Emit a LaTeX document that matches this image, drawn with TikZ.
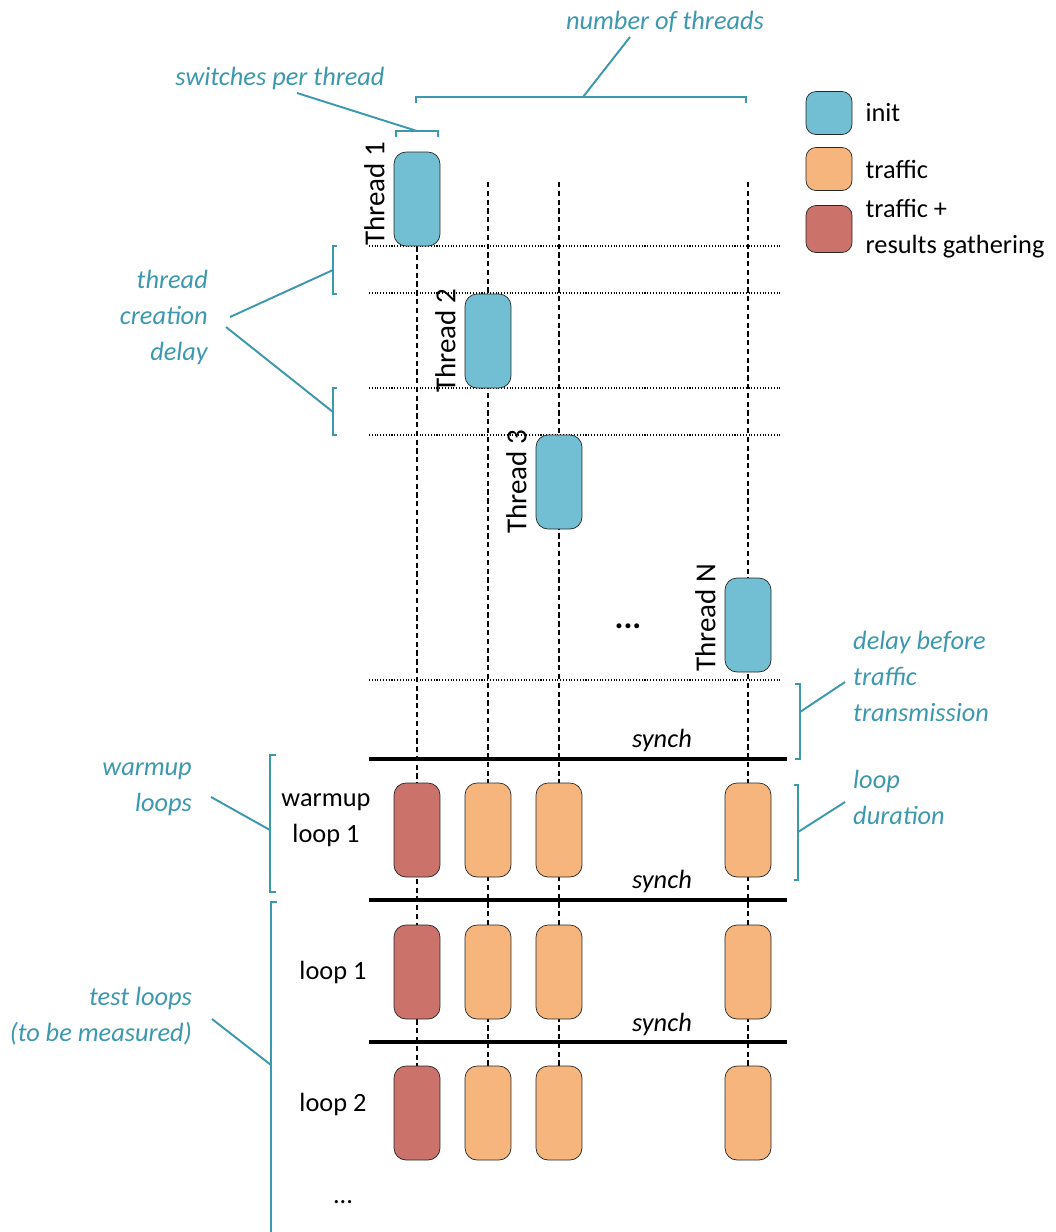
\documentclass[tikz,border=0pt]{standalone}
\usepackage{fontspec}
\setmainfont{Carlito}
\usetikzlibrary{positioning,backgrounds}
\definecolor{initblue}{HTML}{72BFD3}
\definecolor{trafficorange}{HTML}{F7B57E}
\definecolor{gatherred}{HTML}{CB736B}
\definecolor{notecol}{HTML}{3C98AE}
\tikzset{
  slot/.style = {draw=black!85, rounded corners=0.24cm, minimum width=0.92cm,
    minimum height=1.88cm, inner sep=0pt},
  init/.style = {slot, fill=initblue},
  traffic/.style = {slot, fill=trafficorange},
  gather/.style = {slot, fill=gatherred},
  keybox/.style = {draw=black!85, rounded corners=0.2cm, minimum width=0.92cm,
    minimum height=0.86cm, inner sep=0pt},
  txt/.style = {font=\fontsize{15}{20.5}\selectfont},
  note/.style = {text=notecol, font=\itshape\fontsize{15}{20.5}\selectfont},
  thlabel/.style = {font=\fontsize{16.5}{20}\selectfont, rotate=90, anchor=south, inner sep=2pt},
  bracket/.style = {draw=notecol, line width=1.1pt},
  lane/.style = {densely dashed, line width=0.9pt},
  tick/.style = {densely dotted, line width=0.6pt},
  synchline/.style = {line width=1.8pt}
}

\begin{document}
\begin{tikzpicture}[x=0.02cm, y=-0.02cm]
    \useasboundingbox (0,0) rectangle (1056,1232);

    \node [init] (t1) at (417,199) {};
    \node [init] (t2) at (488,341) {};
    \node [init] (t3) at (559,482) {};
    \node [init] (tN) at (748,625) {};
    \node [thlabel] (t1lab) at ([xshift=-3pt, yshift=3pt]t1.west) {Thread 1};
    \node [thlabel] (t2lab) at ([xshift=-3pt]t2.west) {Thread 2};
    \node [thlabel] (t3lab) at ([xshift=-3pt]t3.west) {Thread 3};
    \node [thlabel] (tNlab) at ([xshift=-3pt, yshift=4pt]tN.west) {Thread N};
    \node [font=\bfseries\fontsize{19}{19}\selectfont] (more) at (628,626) {...};

    \node [gather]  (w1) at (417,830) {};
    \node [traffic] (w2) at (488,830) {};
    \node [traffic] (w3) at (559,830) {};
    \node [traffic] (wN) at (748,830) {};
    \node [gather]  (a1) at (417,972) {};
    \node [traffic] (a2) at (488,972) {};
    \node [traffic] (a3) at (559,972) {};
    \node [traffic] (aN) at (748,972) {};
    \node [gather]  (b1) at (417,1113) {};
    \node [traffic] (b2) at (488,1113) {};
    \node [traffic] (b3) at (559,1113) {};
    \node [traffic] (bN) at (748,1113) {};

    \node [txt, align=center] (wlab) at (326,820) {warmup\\loop 1};
    \node [txt] (alab) at (333,972) {loop 1};
    \node [txt] (blab) at (333,1104) {loop 2};
    \node [txt] (clab) at (343,1202) {...};

    \foreach \y in {740,881,1024}
        \node [txt, font=\itshape\fontsize{15}{20.5}\selectfont] at (662,\y) {synch};
    \foreach \y in {759,900,1042}
        \draw [synchline] (369,\y) -- (787,\y);

    \begin{scope}[on background layer]
        \foreach \y in {246,293,388,435,680}
            \draw [tick] (369,\y) -- (782,\y);
        \coordinate (top2) at (488,182);
        \coordinate (top3) at (559,182);
        \coordinate (topN) at (748,182);
        \draw [lane] (t1.south) -- (b1.north);
        \draw [lane] (top2) -- (b2.north);
        \draw [lane] (top3) -- (b3.north);
        \draw [lane] (topN) -- (bN.north);
    \end{scope}

    \node [keybox, fill=initblue] (kinit) at (829,113) {};
    \node [keybox, fill=trafficorange] (ktraffic) at (829,169) {};
    \node [keybox, fill=gatherred, minimum height=0.94cm] (kgather) at (829,229) {};
    \node [txt, right=4pt of kinit] {init};
    \node [txt, right=4pt of ktraffic] {traffic};
    \node [txt, align=left, right=4pt of kgather] {traffic +\\results gathering};

    \node [note] (nthreads) at (665,22) {number of threads};
    \node [note] (switches) at (280,78) {switches per thread};
    \node [note, align=right, anchor=east] (creation) at (214,317) {thread\\creation\\delay};
    \node [note, align=left, anchor=west] (delaytx) at (847,676) {delay before\\traffic\\transmission};
    \node [note, align=left, anchor=west] (loopdur) at (847,797) {loop\\duration};
    \node [note, align=right, anchor=east] (warmnote) at (198,789) {warmup\\loops};
    \node [note, align=right, anchor=east] (testnote) at (198,1016) {test loops\\(to be measured)};

    \coordinate (nthreadsend) at (630,37);
    \coordinate (switchesend) at (297,93);
    \coordinate (creationend1) at (230,317);
    \coordinate (creationend2) at (226,327);
    \coordinate (delaytxend) at (845,682);
    \coordinate (loopdurend) at (845,802);
    \coordinate (warmnoteend) at (211,797);
    \coordinate (testnoteend) at (212,1019);

    \draw [bracket] (416,103) -- (416,97) -- (746,97) -- (746,103);
    \draw [bracket] (583,97) -- (nthreadsend);
    \draw [bracket] (396,137) -- (396,131) -- (438,131) -- (438,137);
    \draw [bracket] (417,131) -- (switchesend);
    \draw [bracket] (337,246) -- (333,246) -- (333,294) -- (337,294);
    \draw [bracket] (333,270) -- (creationend1);
    \draw [bracket] (337,388) -- (333,388) -- (333,435) -- (337,435);
    \draw [bracket] (333,412) -- (creationend2);
    \draw [bracket] (795,684) -- (800,684) -- (800,759) -- (795,759);
    \draw [bracket] (800,712) -- (delaytxend);
    \draw [bracket] (794,785) -- (798,785) -- (798,880) -- (794,880);
    \draw [bracket] (798,832) -- (loopdurend);
    \draw [bracket] (276,755) -- (270,755) -- (270,892) -- (276,892);
    \draw [bracket] (270,830) -- (warmnoteend);
    \draw [bracket] (277,902) -- (271,902) -- (271,1232);
    \draw [bracket] (271,1065) -- (testnoteend);
\end{tikzpicture}
\end{document}
